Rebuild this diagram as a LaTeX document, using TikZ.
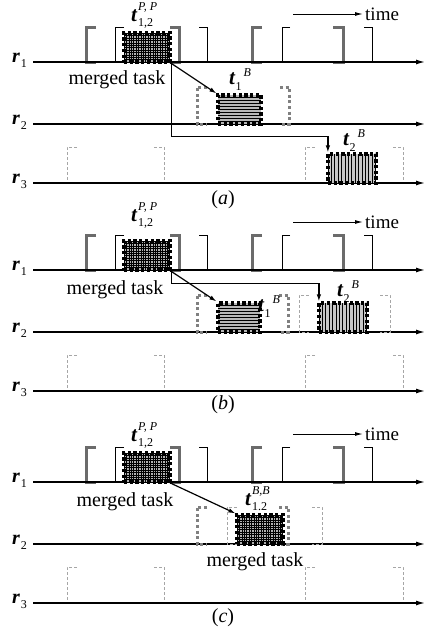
\documentclass[tikz,border=0pt]{standalone}
\usepackage{fontspec}
\setmainfont{Liberation Serif}
\usetikzlibrary{arrows.meta}
\newcommand\tPP[2]{{\fontsize{21}{21}\selectfont\bfseries\itshape t}\kern1pt{\fontsize{12}{12}\selectfont\rlap{\raisebox{-5pt}{#2}}\raisebox{11pt}{\itshape #1}}}
\newcommand\tSB[2]{{\fontsize{21}{21}\selectfont\bfseries\itshape t}\kern0.5pt{\fontsize{12}{12}\selectfont\raisebox{-6pt}{#1}\kern2pt\raisebox{8pt}{\itshape #2}}}
\newcommand\rlab[1]{{\fontsize{20}{20}\selectfont\bfseries\itshape r}\kern1pt{\fontsize{12}{12}\selectfont\raisebox{-5pt}{#1}}}
\newcommand\brL[5]{\draw[#1] ({#2+#5},#3) -- (#2,#3) -- (#2,#4) -- ({#2+#5},#4);}
\newcommand\brR[5]{\draw[#1] ({#2-#5},#3) -- (#2,#3) -- (#2,#4) -- ({#2-#5},#4);}
\tikzset{
  every node/.style={inner sep=0pt, font=\fontsize{20}{22}\selectfont},
  axis/.style={line width=1.3pt, -{Latex[length=9pt,width=5pt]}},
  conn/.style={line width=1.2pt, -{Latex[length=7pt,width=4.5pt]}},
  tarrow/.style={line width=1pt, -{Latex[length=8pt,width=4pt]}},
  thickbr/.style={line width=3pt, draw=black!58},
  thinbr/.style={line width=1pt, draw=black},
  dotbr/.style={line width=3pt, draw=black!50, dash pattern=on 3pt off 2.6pt},
  dashbr/.style={line width=0.8pt, draw=black!35, dash pattern=on 3pt off 2pt},
  taskbox/.style={minimum height=29pt, outer sep=1.6pt,
    postaction={draw=black, line width=3.3pt, dash pattern=on 3.3pt off 2.4pt}},
  fillline/.style={solid, line width=#1, draw=black},
  gridfill/.style={fill=black!30, path picture={
    \foreach \k in {0,2.4,...,50} {
      \draw[fillline=0.55pt] ([xshift=\k pt]path picture bounding box.south west) -- ([xshift=\k pt]path picture bounding box.north west);
      \draw[fillline=0.55pt] ([yshift=\k pt]path picture bounding box.south west) -- ([yshift=\k pt]path picture bounding box.south east);
    }}},
  hfill/.style={fill=black!28, path picture={
    \foreach \k in {0,3,...,33} {
      \draw[fillline=0.8pt] ([yshift=\k pt]path picture bounding box.south west) -- ([yshift=\k pt]path picture bounding box.south east);
    }}},
  vfill/.style={fill=black!22, path picture={
    \foreach \k in {0,3.4,...,52} {
      \draw[fillline=0.8pt] ([xshift=\k pt]path picture bounding box.south west) -- ([xshift=\k pt]path picture bounding box.north west);
    }}},
}
\begin{document}
\begin{tikzpicture}[x=1pt,y=-1pt]
\useasboundingbox (0,0) rectangle (431,627);
\foreach \p/\y/\ly/\mx/\my/\cy in {a/62/-41/117/18/138, b/270/-49/115/20/135, c/482/-41/125/20/136}{
\begin{scope}[shift={(0,\y)}]
  % r1 brackets
  \brL{thickbr}{86}{-35}{0}{10}
  \brL{thinbr}{115}{-35}{0}{9}
  \brR{thickbr}{179}{-35}{0}{9}
  \brR{thinbr}{207}{-35}{0}{8}
  \brL{thickbr}{252}{-35}{0}{10}
  \brL{thinbr}{282}{-35}{0}{8}
  \brR{thickbr}{343}{-35}{0}{10}
  \brR{thinbr}{372}{-35}{0}{8}
  % r3 brackets
  \brL{dashbr}{67}{85}{121}{10}
  \brR{dashbr}{164}{85}{121}{10}
  \brL{dashbr}{305}{85}{121}{10}
  \brR{dashbr}{403}{85}{121}{10}
  % axes
  \coordinate (s1\p) at (33,0);   \coordinate (e1\p) at (425,0);
  \coordinate (s2\p) at (33,62);  \coordinate (e2\p) at (425,62);
  \coordinate (s3\p) at (33,121); \coordinate (e3\p) at (425,121);
  \draw[axis] (s1\p) -- (e1\p);
  \draw[axis] (s2\p) -- (e2\p);
  \draw[axis] (s3\p) -- (e3\p);
  \node[anchor=base west] (r1\p) at (12,0) {\rlab{1}};
  \node[anchor=base west] (r2\p) at (12,62) {\rlab{2}};
  \node[anchor=base west] (r3\p) at (12,121) {\rlab{3}};
  % merged task on r1
  \node[taskbox, gridfill, minimum width=46pt] (pp\p) at (147,-14.5) {};
  \node[anchor=base west] (lpp\p) at (131,\ly) {\tPP{P, P}{1,2}};
  % time
  \coordinate (ts\p) at (293,-48);
  \node[anchor=west, font=\fontsize{19}{21}\selectfont] (time\p) at (365,-48) {time};
  \draw[tarrow] (ts\p) -- ([xshift=-2pt]time\p.west);
  \node (mt\p) at (\mx,\my) {merged task};
  \node (cap\p) at (223,\cy) {(\textit{\p})};
\end{scope}}
% ---------- panel (a)
\brL{dotbr}{197}{87}{124}{10}
\brR{dotbr}{289}{87}{124}{9}
\node[taskbox, hfill, minimum width=43pt] (t1a) at (239.5,109.5) {};
\node[anchor=base west] (lt1a) at (229,84) {\tSB{1}{B}};
\node[taskbox, vfill, minimum width=48pt] (t2a) at (352,168.5) {};
\node[anchor=base west] (lt2a) at (343,145) {\tSB{2}{B}};
\draw[conn] (ppa.south east) -- (t1a.north west);
\draw[conn] (ppa.south east) -- ++(0,73) -| ([xshift=1.5pt]t2a.north west);
% ---------- panel (b)
\brL{dotbr}{197}{295}{332}{10}
\brR{dotbr}{288}{295}{332}{9}
\brL{dashbr}{299}{295}{332}{10}
\brR{dashbr}{390}{295}{332}{10}
\node[taskbox, hfill, minimum width=42pt] (t1b) at (239,317.5) {};
\node[anchor=base west] (lt1b) at (258,311) {\tSB{1}{B}};
\node[taskbox, vfill, minimum width=48pt] (t2b) at (343,317.5) {};
\node[anchor=base west] (lt2b) at (337,296) {\tSB{2}{B}};
\draw[conn] (ppb.south east) -- (t1b.north west);
\draw[conn] (ppb.south east) -- ++(0,12) -| ([xshift=1.5pt]t2b.north west);
% ---------- panel (c)
\brL{dotbr}{197}{507}{544}{10}
\brR{dotbr}{288}{507}{544}{9}
\brL{dashbr}{227}{507}{544}{10}
\brR{dashbr}{322}{507}{544}{10}
\node[taskbox, gridfill, minimum width=46pt] (bbc) at (260,529.5) {};
\node[anchor=base west] (lbbc) at (245,505) {\tPP{B,B}{1.2}};
\node (mt2c) at (255,562) {merged task};
\draw[conn] (ppc.south east) -- (bbc.north west);
\end{tikzpicture}
\end{document}
